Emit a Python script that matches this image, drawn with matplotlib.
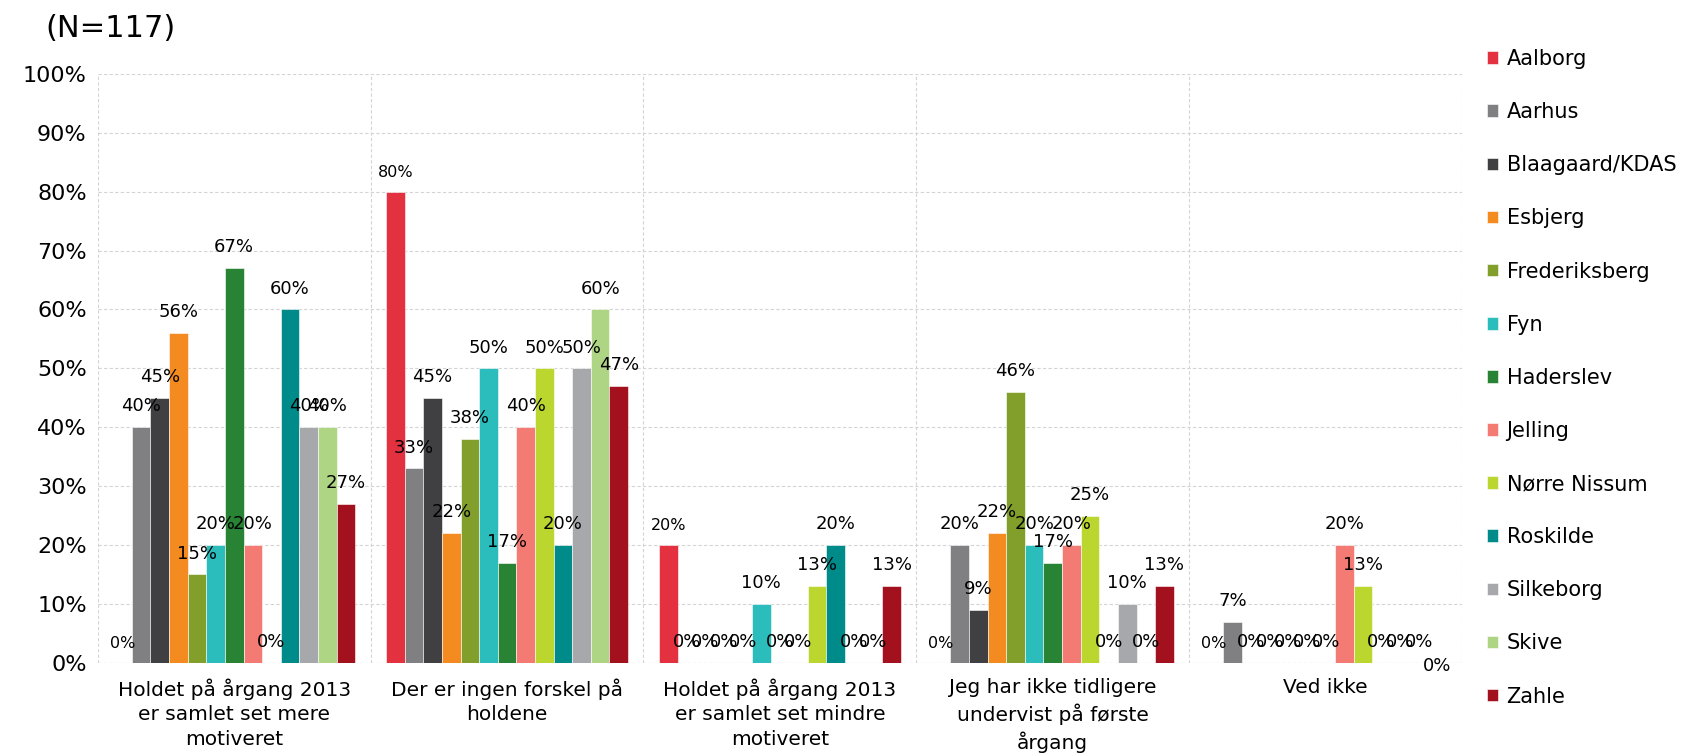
import matplotlib
matplotlib.use("Agg")
import matplotlib.pyplot as plt
import numpy as np

categories = ["Holdet på årgang 2013\ner samlet set mere\nmotiveret",
              "Der er ingen forskel på\nholdene",
              "Holdet på årgang 2013\ner samlet set mindre\nmotiveret",
              "Jeg har ikke tidligere\nundervist på første\nårgang",
              "Ved ikke"]

schools = ["Aalborg", "Aarhus", "Blaagaard/KDAS", "Esbjerg", "Frederiksberg", "Fyn",
           "Haderslev", "Jelling", "Nørre Nissum", "Roskilde", "Silkeborg", "Skive", "Zahle"]

aalborg = [0, 80, 20, 0, 0]
aarhus = [40, 33, 0, 20, 7]
blaagaard = [45, 45, 0, 9, 0]
esbjerg = [56, 22, 0, 22, 0]
frederiksberg = [15, 38, 0, 46, 0]
fyn = [20, 50, 10, 20, 0]
haderslev = [67, 17, 0, 17, 0]
jelling = [20, 40, 0, 20, 20]
norre_nissum = [0, 50, 13, 25, 13]
roskilde = [60, 20, 20, 0, 0]
silkeborg = [40, 50, 0, 10, 0]
skive = [40, 60, 0, 0, 0]
zahle = [27, 47, 13, 13, 0]

series = [aalborg, aarhus, blaagaard, esbjerg, frederiksberg, fyn, haderslev,
          jelling, norre_nissum, roskilde, silkeborg, skive, zahle]

colors = ["#E3313F", "#808083", "#404042", "#F48B21", "#819F2A", "#2BBDBB", "#288334",
          "#F47B74", "#BCD630", "#008B8B", "#A7A8AB", "#AED584", "#A4111E"]

fig = plt.figure(figsize=(17.04, 7.54), dpi=100)
ax = fig.add_axes([0.0574, 0.121, 0.8006, 0.781])

x = np.arange(len(categories))
n = len(series)
span = 0.887
width = span / n
for i, (vals, col, name) in enumerate(zip(series, colors, schools)):
    pos = x - span / 2 + width * (i + 0.5)
    bars = ax.bar(pos, vals, width, color=col, edgecolor="white", linewidth=0.4, label=name)
    # Aalborg labels are a bit smaller in the original
    fs = 11.5 if name == "Aalborg" else 13
    for j, (b, v) in enumerate(zip(bars, vals)):
        dy = 2.0
        if name == "Zahle" and j == 4:
            dy = -2.0  # pushed down in the original
        ax.text(b.get_x() + b.get_width() / 2, v + dy, f"{v}%", ha="center", va="bottom",
                fontsize=fs, color="black")

ax.set_xlim(-0.5, len(categories) - 0.5)
ax.set_ylim(0, 100)
ax.set_yticks(np.arange(0, 101, 10))
ax.set_yticklabels([f"{t}%" for t in range(0, 101, 10)], fontsize=16)
ax.set_xticks(x)
ax.set_xticklabels(categories, fontsize=14.5, linespacing=1.38)
ax.tick_params(axis="x", length=0, pad=11)
ax.tick_params(axis="y", length=0, pad=8)
ax.grid(axis="y", color="#d4d4d4", linestyle=(0, (3, 2)), linewidth=0.8)
for b in np.arange(-0.5, len(categories) + 0.5, 1):
    ax.axvline(b, color="#d4d4d4", linestyle=(0, (3, 2)), linewidth=0.8, zorder=0)
ax.set_axisbelow(True)
for s in ax.spines.values():
    s.set_visible(False)
ax.axhline(0, color="#d4d4d4", linestyle=(0, (3, 2)), linewidth=0.8, zorder=0)

fig.text(0.0268, 0.962, "(N=117)", fontsize=22, ha="left", va="center")

fig.legend(loc="upper left", bbox_to_anchor=(0.8725, 0.935), fontsize=15, frameon=False,
           handlelength=0.55, handleheight=0.55, handletextpad=0.4, labelspacing=1.59,
           borderpad=0, borderaxespad=0, bbox_transform=fig.transFigure)

fig.savefig("out.png", dpi=100)
